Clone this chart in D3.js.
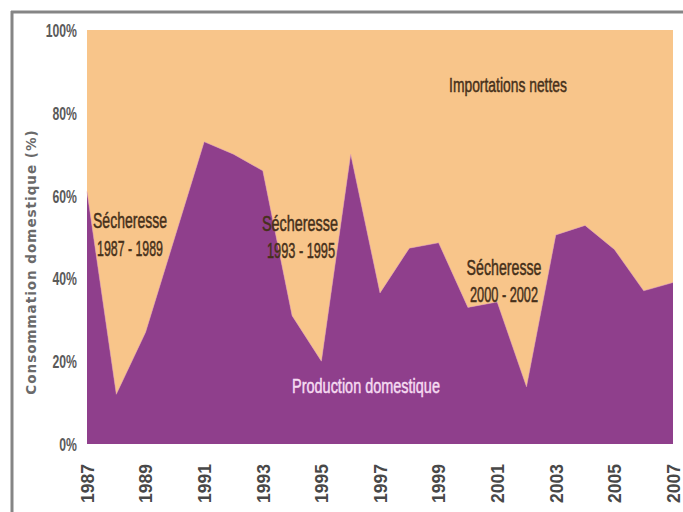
<!DOCTYPE html>
<html><head><meta charset="utf-8">
<script src="https://cdn.jsdelivr.net/npm/d3@7"></script>
<style>
html,body{margin:0;padding:0;background:#fff;}
svg{display:block;}
</style></head>
<body>
<svg id="chart" width="683" height="512"></svg>
<script>
const years = [1987,1988,1989,1990,1991,1992,1993,1994,1995,1996,1997,1998,1999,2000,2001,2002,2003,2004,2005,2006,2007];
const production = [61,12,27,50,73,70,66,31,20,70,36.5,47.3,48.6,33,34.3,13.8,50.5,52.8,47,37,39];
const xTickYears = [1987,1989,1991,1993,1995,1997,1999,2001,2003,2005,2007];
const yTicks = [0,20,40,60,80,100];
const annotationTexts = [["Sécheresse","1987 - 1989"],["Sécheresse","1993 - 1995"],["Sécheresse","2000 - 2002"]];
const importsLabel = "Importations nettes";
const productionLabel = "Production domestique";
const yTitle = "Consommation domestique (%)";

const svg = d3.select("#chart");
const x = d3.scaleLinear().domain([1987,2007]).range([87,673]);
const y = d3.scaleLinear().domain([0,100]).range([444,30]);
const data = years.map((yr,i)=>({year:yr, p:production[i]}));

const sans = "'Liberation Sans',Arial,sans-serif";

// draw condensed text: centred at cx, baseline by, scaled horizontally to width w
function condensed(txt, cx, by, w, size, fill){
  const g = svg.append("g").attr("transform",`translate(${cx},${by})`);
  const t = g.append("text").attr("text-anchor","middle").attr("font-family",sans)
    .attr("font-size",size).attr("fill",fill)
    .attr("stroke",fill).attr("stroke-width",0.5).text(txt);
  const L = t.node().getComputedTextLength();
  g.attr("transform",`translate(${cx},${by}) scale(${w/L},1)`);
  return t;
}

// frame
svg.append("line").attr("x1",11).attr("x2",683).attr("y1",12).attr("y2",12).attr("stroke","#858585").attr("stroke-width",3);
svg.append("line").attr("x1",12).attr("x2",12).attr("y1",11).attr("y2",512).attr("stroke","#858585").attr("stroke-width",3);

// imports area (between production and 100%)
svg.append("path").datum(data)
  .attr("fill","#F8C58A")
  .attr("d", d3.area().x(d=>x(d.year)).y0(d=>y(d.p)).y1(y(100)));
// production area
svg.append("path").datum(data)
  .attr("fill","#8F3F8C")
  .attr("d", d3.area().x(d=>x(d.year)).y0(y(0)).y1(d=>y(d.p)));
svg.append("path").datum(data)
  .attr("fill","none").attr("stroke","#e9a3a8").attr("stroke-width",0.8).attr("opacity",0.6)
  .attr("d", d3.line().x(d=>x(d.year)).y(d=>y(d.p)));

// y axis (condensed labels)
const ya = svg.append("g").attr("transform","translate(77,0)")
  .call(d3.axisLeft(y).tickValues(yTicks).tickSize(0).tickPadding(0).tickFormat(d=>d+"%"));
ya.select(".domain").remove();
ya.selectAll("text").attr("font-family",sans).attr("font-weight","bold").attr("font-size",18)
  .attr("fill","#5a5a5a").attr("x",0).attr("dy","0.36em")
  .attr("transform","scale(0.68,1)");

// x axis
const xa = svg.append("g").attr("transform","translate(0,444)")
  .call(d3.axisBottom(x).tickValues(xTickYears).tickSize(0).tickFormat(d3.format("d")));
xa.select(".domain").remove();
xa.selectAll("text")
  .attr("font-family",sans).attr("font-weight","bold").attr("font-size",17.5)
  .attr("fill","#484848")
  .attr("text-anchor","start")
  .attr("transform","translate(0,59) rotate(-90)")
  .attr("x",0).attr("y",0).attr("dy","0.36em");

// y title
svg.append("text")
  .attr("transform","translate(36,262) rotate(-90)")
  .attr("text-anchor","middle")
  .attr("font-family","'DejaVu Sans',sans-serif").attr("font-weight","bold").attr("font-size",13.5)
  .attr("letter-spacing",1)
  .attr("fill","#6a6a6a")
  .text(yTitle);

// annotations
const brown = "#46301a";
condensed(annotationTexts[0][0], 130, 228, 74, 22, brown);
condensed(annotationTexts[0][1], 130, 256, 66, 22, brown);
condensed(annotationTexts[1][0], 300, 231, 76, 22, brown);
condensed(annotationTexts[1][1], 301, 258, 68, 22, brown);
condensed(annotationTexts[2][0], 504, 275, 75, 22, brown);
condensed(annotationTexts[2][1], 504, 302, 68, 22, brown);
condensed(importsLabel, 508, 92, 118, 21, brown);
condensed(productionLabel, 366, 393, 148, 21, "#f6dcf2");
</script>
</body></html>
